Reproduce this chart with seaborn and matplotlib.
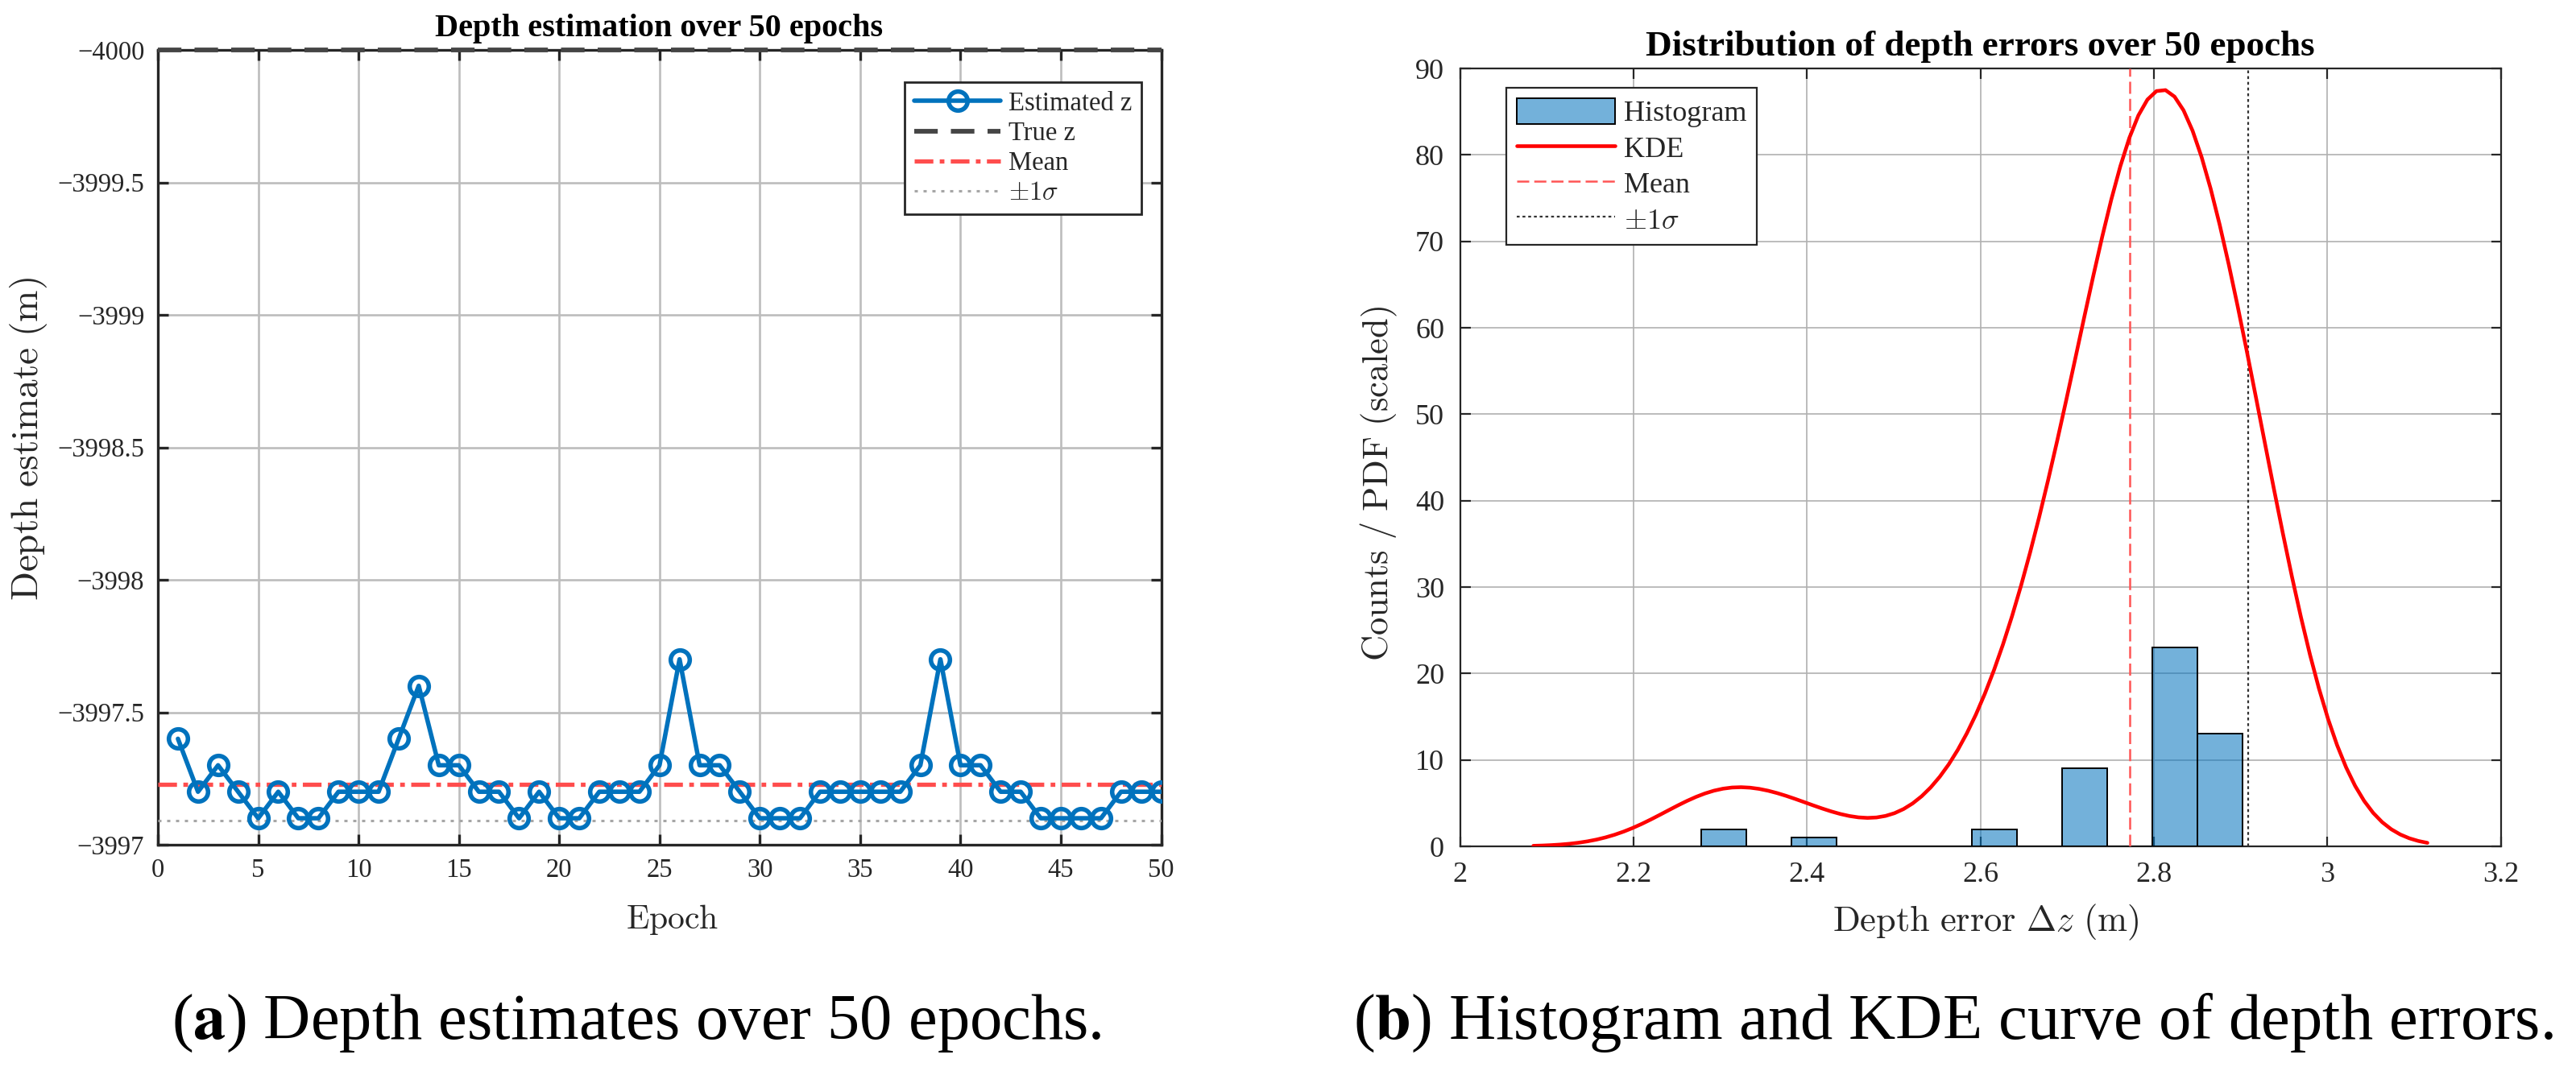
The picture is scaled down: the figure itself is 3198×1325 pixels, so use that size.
import numpy as np
import matplotlib
matplotlib.use("Agg")
import matplotlib.pyplot as plt
import seaborn as sns

# ---- data ----
epochs = list(range(1, 51))
estimates = [-3997.4, -3997.2, -3997.3, -3997.2, -3997.1, -3997.2, -3997.1, -3997.1, -3997.2, -3997.2,
             -3997.2, -3997.4, -3997.6, -3997.3, -3997.3, -3997.2, -3997.2, -3997.1, -3997.2, -3997.1,
             -3997.1, -3997.2, -3997.2, -3997.2, -3997.3, -3997.7, -3997.3, -3997.3, -3997.2, -3997.1,
             -3997.1, -3997.1, -3997.2, -3997.2, -3997.2, -3997.2, -3997.2, -3997.3, -3997.7, -3997.3,
             -3997.3, -3997.2, -3997.2, -3997.1, -3997.1, -3997.1, -3997.1, -3997.2, -3997.2, -3997.2]
true_z = -4000.0

# histogram bins and KDE settings (as in the matlab figure)
bin_start = 2.278
bin_width = 0.052
n_bins = 12
kde_bw = 0.0718
kde_scale = 25.0

left_yticks = [-4000, -3999.5, -3999, -3998.5, -3998, -3997.5, -3997]
left_yticklabels = ["\u22124000", "\u22123999.5", "\u22123999", "\u22123998.5", "\u22123998", "\u22123997.5", "\u22123997"]
left_xticks = list(range(0, 51, 5))
right_xticks = [2, 2.2, 2.4, 2.6, 2.8, 3, 3.2]
right_xticklabels = ["2", "2.2", "2.4", "2.6", "2.8", "3", "3.2"]
right_yticks = list(range(0, 91, 10))

est = np.array(estimates)
mean_z = est.mean()
std_z = est.std(ddof=1)
err = est - true_z
mean_e = err.mean()
std_e = err.std(ddof=1)
bin_edges = bin_start + bin_width * np.arange(n_bins + 1)

grid = np.linspace(err.min() - 3 * kde_bw, err.max() + 3 * kde_bw, 100)
dens = np.exp(-0.5 * ((grid[:, None] - err[None, :]) / kde_bw) ** 2).sum(axis=1)
dens = dens / (len(err) * kde_bw * np.sqrt(2 * np.pi)) * kde_scale

# ---- style ----
sns.set_style("ticks")
plt.rcParams["font.family"] = ["Liberation Serif", "DejaVu Serif"]
plt.rcParams["axes.unicode_minus"] = True
INK = "#262626"

W, H = 3198, 1325
fig = plt.figure(figsize=(W / 100, H / 100), dpi=100)


def px_rect(x0, y0, x1, y1):
    return [x0 / W, 1 - y1 / H, (x1 - x0) / W, (y1 - y0) / H]


def ftext(x, y, s, **kw):
    fig.text(x / W, 1 - y / H, s, **kw)


# ================= panel (a) =================
ax1 = fig.add_axes(px_rect(196, 62, 1441.5, 1049))
sns.lineplot(x=epochs, y=estimates, ax=ax1, color="#0072BD", lw=4.0,
             marker="o", markersize=17, markerfacecolor="none",
             markeredgecolor="#0072BD", markeredgewidth=4.0,
             label="Estimated z", zorder=5)
ax1.axhline(true_z, color="#454545", lw=4.2, ls=(0, (5.0, 2.8)),
            label="True z", clip_on=False, zorder=6)
ax1.axhline(mean_z, color="#FF4D4D", lw=3.8, ls=(0, (4.4, 1.5, 1.1, 1.5)),
            label="Mean", zorder=4)
ax1.axhline(mean_z + std_z, color="#A6A6A6", lw=2.2, ls=(0, (1.3, 2.3)),
            label=r"$\pm1\sigma$", zorder=3)

ax1.set_xlim(0, 50)
ax1.set_ylim(-3997, -4000)
ax1.set_xticks(left_xticks)
ax1.set_yticks(left_yticks)
ax1.set_yticklabels(left_yticklabels)
ax1.grid(True, color="#BDBDBD", lw=1.9)
ax1.set_axisbelow(True)
for sp in ax1.spines.values():
    sp.set_visible(True)
    sp.set_color(INK)
    sp.set_linewidth(2.4)
ax1.tick_params(direction="in", length=9.5, width=2.4, top=True, right=True,
                labelsize=23.5, colors=INK, pad=12)
ax1.set_xlabel("")
ax1.set_ylabel("")
leg1 = ax1.legend(loc="upper right", bbox_to_anchor=(0.9803, 0.9595), borderaxespad=0,
                  fancybox=False, edgecolor=INK, framealpha=1,
                  prop={"family": "Liberation Serif", "size": 23.5, "math_fontfamily": "cm"},
                  handlelength=3.3, handletextpad=0.3, labelspacing=0.2, borderpad=0.35)
leg1.get_frame().set_linewidth(2.0)

ftext(818, 45, "Depth estimation over 50 epochs", ha="center", va="baseline",
      fontsize=29, fontweight="bold", color="black")
ftext(835, 1142, r"$\mathrm{Epoch}$", ha="center", va="center", fontsize=30,
      math_fontfamily="cm", color=INK)
ftext(36, 545, r"$\mathrm{Depth\ estimate\ (m)}$", ha="center", va="center", fontsize=34,
      rotation=90, math_fontfamily="cm", color=INK)

# ================= panel (b) =================
ax2 = fig.add_axes(px_rect(1812.5, 85, 3104.6, 1051))
sns.histplot(x=err, bins=bin_edges, ax=ax2, stat="count", color="#0072BD", alpha=0.55,
             edgecolor="black", linewidth=1.4, label="Histogram", zorder=3)
sns.lineplot(x=grid, y=dens, ax=ax2, color="#FF0000", lw=3.3, label="KDE", zorder=5)
ax2.axvline(mean_e, color="#FF5555", lw=1.8, ls=(0, (6, 2.5)), label="Mean", zorder=4)
ax2.axvline(mean_e + std_e, color="#333333", lw=1.6, ls=(0, (1.6, 1.6)),
            label=r"$\pm1\sigma$", zorder=4)

ax2.set_xlim(2, 3.2)
ax2.set_ylim(0, 90)
ax2.set_xticks(right_xticks)
ax2.set_xticklabels(right_xticklabels)
ax2.set_yticks(right_yticks)
ax2.grid(True, color="#B0B0B0", lw=1.2)
ax2.set_axisbelow(True)
for sp in ax2.spines.values():
    sp.set_visible(True)
    sp.set_color(INK)
    sp.set_linewidth(1.6)
ax2.tick_params(direction="in", length=9, width=1.6, top=True, right=True,
                labelsize=26, colors=INK, pad=14)
ax2.set_xlabel("")
ax2.set_ylabel("")
handles, labels = ax2.get_legend_handles_labels()
order = [labels.index(k) for k in ["Histogram", "KDE", "Mean", r"$\pm1\sigma$"]]
leg2 = ax2.legend([handles[i] for i in order], [labels[i] for i in order],
                  loc="upper left", bbox_to_anchor=(0.0445, 0.975), borderaxespad=0,
                  fancybox=False, edgecolor=INK, framealpha=1,
                  prop={"family": "Liberation Serif", "size": 26, "math_fontfamily": "cm"},
                  handlelength=3.4, handleheight=1.0, handletextpad=0.3,
                  labelspacing=0.22, borderpad=0.35)
leg2.get_frame().set_linewidth(1.6)

ftext(2458, 69, "Distribution of depth errors over 50 epochs", ha="center", va="baseline",
      fontsize=32.5, fontweight="bold", color="black")
ftext(2465, 1145, r"$\mathrm{Depth\ error}\ \Delta z\ \mathrm{(m)}$", ha="center", va="center",
      fontsize=32, math_fontfamily="cm", color=INK)
ftext(1712, 600, r"$\mathrm{Counts\ /\ PDF\ (scaled)}$", ha="center", va="center", fontsize=32,
      rotation=90, math_fontfamily="cm", color=INK)

# ---- captions ----
ftext(790, 1290, r"($\mathbf{a}$) Depth estimates over 50 epochs.", ha="center", va="baseline",
      fontsize=58, math_fontfamily="stix", color="black")
ftext(2425, 1290, r"($\mathbf{b}$) Histogram and KDE curve of depth errors.", ha="center",
      va="baseline", fontsize=58, math_fontfamily="stix", color="black")

fig.savefig("out.png", dpi=100)
